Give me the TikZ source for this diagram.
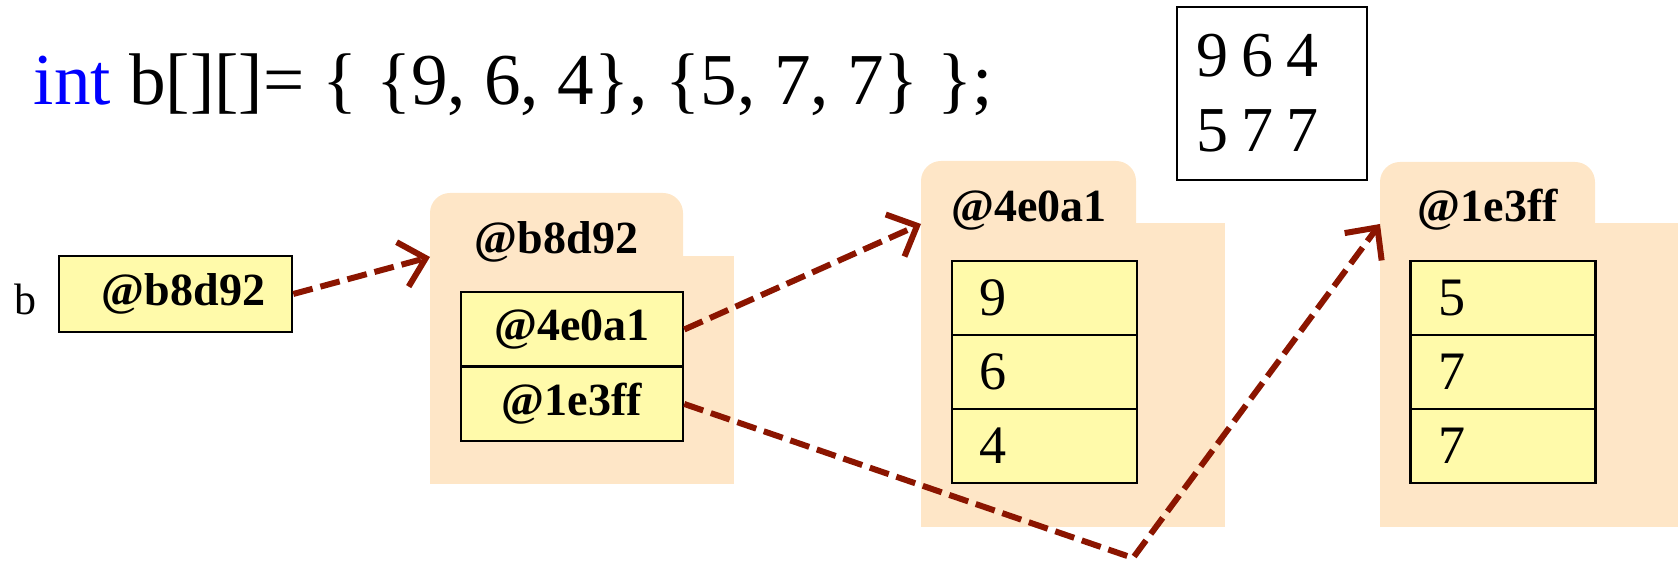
\documentclass[tikz,border=0pt]{standalone}
\usepackage{fontspec}
\setmainfont{Liberation Serif}
\usetikzlibrary{arrows.meta}
\definecolor{folderfill}{RGB}{254,230,199}
\definecolor{cellfill}{RGB}{255,250,170}
\definecolor{ptrcol}{RGB}{139,21,0}
\definecolor{kwcol}{RGB}{0,0,255}
\begin{document}
\begin{tikzpicture}[x=0.01cm,y=-0.01cm,
  foldershape/.style={fill=folderfill, draw=none},
  flabel/.style={font=\fontsize{13.1pt}{15pt}\selectfont\bfseries, inner sep=0pt},
  ptrcell/.style={draw=black, line width=0.7pt, fill=cellfill, inner sep=0pt,
    minimum height=0.745cm, font=\fontsize{13.1pt}{15pt}\selectfont\bfseries},
  valcell/.style={draw=black, line width=0.7pt, fill=cellfill, inner ysep=0pt, inner xsep=0.28cm,
    minimum height=0.74cm, text width=1.29cm, align=left, font=\fontsize{15.4pt}{18pt}\selectfont},
  ptrarrow/.style={draw=ptrcol, line width=1.7pt, dash pattern=on 0.2cm off 0.08cm,
    -{Straight Barb[length=0.24cm, width=0.46cm]}}
]
\useasboundingbox (0,0) rectangle (1678,565);

% title
\node[anchor=base west, inner sep=0pt, font=\fontsize{20.8pt}{25pt}\selectfont] (title) at (33,105)
  {{\color{kwcol}int} b[][]= \{ \{9, 6, 4\}, \{5, 7, 7\} \};};

% matrix box
\node[draw=black, line width=0.7pt, minimum width=1.9cm, minimum height=1.73cm, text width=1.5cm,
  inner xsep=0.2cm, align=left, font=\fontsize{18.2pt}{21.3pt}\selectfont] (matrix) at (1272,93.5)
  {9\hspace{0.13cm}6\hspace{0.13cm}4\\5\hspace{0.13cm}7\hspace{0.13cm}7};

% variable b
\node[anchor=base, inner sep=0pt, font=\fontsize{12.5pt}{15pt}\selectfont] (blabel) at (25,315) {b};
\node[ptrcell, minimum width=2.33cm, minimum height=0.76cm] (bbox) at (175.5,294) {\hspace*{0.16cm}@b8d92};

% folder 1
\fill[foldershape, rounded corners=0.2cm] (430,193) rectangle (683,300);
\fill[foldershape] (430,256) rectangle (734,484);
\node[flabel, anchor=base] (f1lab) at (556.5,254) {@b8d92};
\node[ptrcell, minimum width=2.22cm] (c1a) at (572,329.5) {@4e0a1};
\node[ptrcell, minimum width=2.22cm] (c1b) at (572,404) {@1e3ff};
\coordinate (f1in) at (430,257);

% folder 2
\fill[foldershape, rounded corners=0.2cm] (921,161) rectangle (1136,260);
\fill[foldershape] (921,223) rectangle (1225,527);
\node[flabel, anchor=base] (f2lab) at (1029,222) {@4e0a1};
\node[valcell] (c2a) at (1044.5,298) {9};
\node[valcell] (c2b) at (1044.5,372) {6};
\node[valcell] (c2c) at (1044.5,446) {4};
\coordinate (f2in) at (921,224);

% folder 3
\fill[foldershape, rounded corners=0.2cm] (1380,162) rectangle (1595,260);
\fill[foldershape] (1380,223) rectangle (1678,527);
\node[flabel, anchor=base] (f3lab) at (1488,222) {@1e3ff};
\node[valcell] (c3a) at (1503,298) {5};
\node[valcell] (c3b) at (1503,372) {7};
\node[valcell] (c3c) at (1503,446) {7};
\coordinate (f3in) at (1380,224);

% pointers
\coordinate (bend) at (1133,558);
\draw[ptrarrow] (bbox.east) -- (f1in);
\draw[ptrarrow] (c1a.east) -- (f2in);
\draw[ptrarrow] (c1b.east) -- (bend) -- (f3in);
\end{tikzpicture}
\end{document}
